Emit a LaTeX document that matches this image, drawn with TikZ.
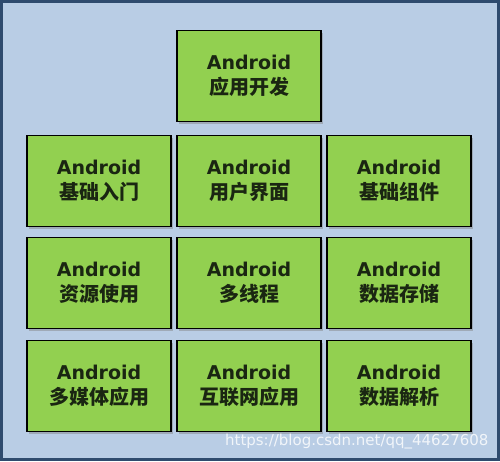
\documentclass[tikz,border=0pt]{standalone}
\usepackage{fontspec}
\setmainfont{DejaVu Sans}
\newfontfamily\cjk{Noto Sans CJK SC}
\usetikzlibrary{shadows}
\definecolor{frameblue}{HTML}{2F4B6E}
\definecolor{paleblue}{HTML}{B9CDE5}
\definecolor{leafgreen}{HTML}{92D050}
\definecolor{inkdark}{HTML}{1A2612}
\begin{document}
\begin{tikzpicture}[x=1pt, y=-1pt,
    topic/.style={draw=black, line width=1.4pt, fill=leafgreen,
        minimum width=144pt, minimum height=91pt, align=center,
        text=inkdark, font=\bfseries\fontsize{19}{25}\selectfont,
        drop shadow={shadow xshift=2pt, shadow yshift=-2pt, opacity=0.45}}]
    \useasboundingbox (0,0) rectangle (500,461);
    \draw[frameblue, line width=3pt, fill=paleblue] (1.5,1.5) rectangle (498.5,459.5);
    \node[topic] (app) at (249,76) {Android\\{\cjk\fontsize{20}{25}\selectfont 应用开发}};
    \node[topic] (basics) at (99,181) {Android\\{\cjk\fontsize{20}{25}\selectfont 基础入门}};
    \node[topic] (ui) at (249,181) {Android\\{\cjk\fontsize{20}{25}\selectfont 用户界面}};
    \node[topic] (widgets) at (399,181) {Android\\{\cjk\fontsize{20}{25}\selectfont 基础组件}};
    \node[topic] (res) at (99,283) {Android\\{\cjk\fontsize{20}{25}\selectfont 资源使用}};
    \node[topic] (thread) at (249,283) {Android\\{\cjk\fontsize{20}{25}\selectfont 多线程}};
    \node[topic] (store) at (399,283) {Android\\{\cjk\fontsize{20}{25}\selectfont 数据存储}};
    \node[topic] (media) at (99,386) {Android\\{\cjk\fontsize{20}{25}\selectfont 多媒体应用}};
    \node[topic] (net) at (249,386) {Android\\{\cjk\fontsize{20}{25}\selectfont 互联网应用}};
    \node[topic] (parse) at (399,386) {Android\\{\cjk\fontsize{20}{25}\selectfont 数据解析}};
    % watermark
    \node[anchor=east, text=white, opacity=0.8, font=\fontsize{15}{15}\selectfont] (mark) at (492,442) {https://blog.csdn.net/qq\_44627608};
\end{tikzpicture}
\end{document}
